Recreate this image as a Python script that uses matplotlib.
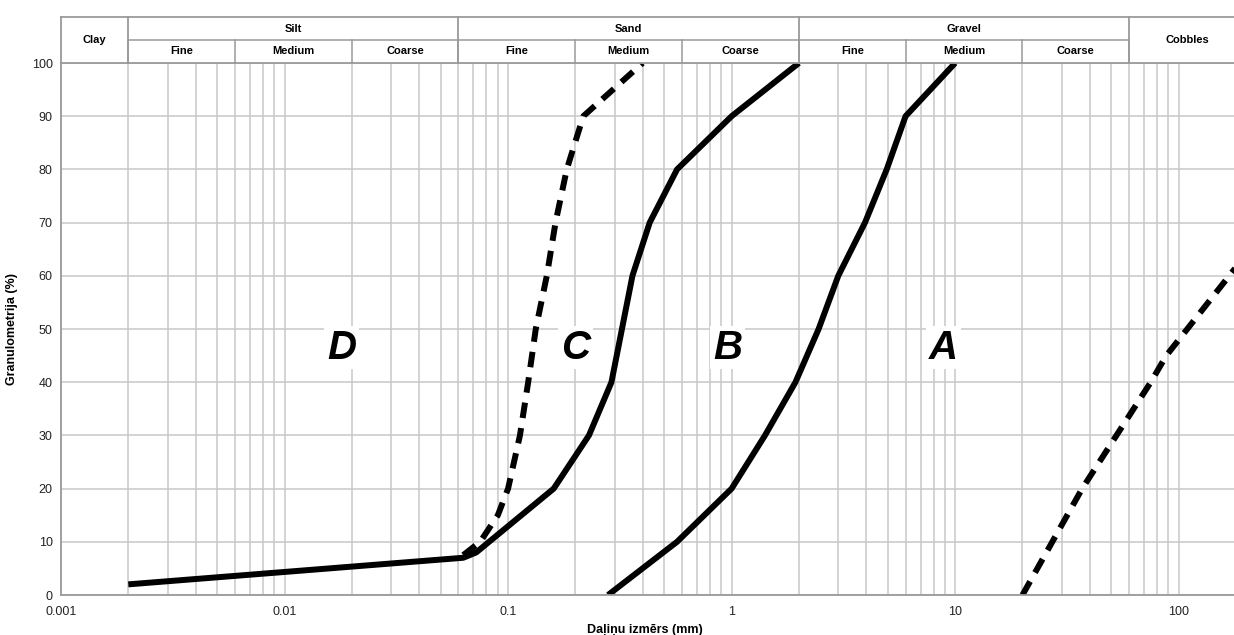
import numpy as np
import matplotlib.pyplot as plt
from matplotlib.ticker import FixedLocator, FixedFormatter, NullFormatter

plt.rcParams['font.family'] = ['Liberation Sans', 'DejaVu Sans']

# grading curves: particle size (mm) vs passing (%)
b_size = [0.002, 0.063, 0.072, 0.16, 0.23, 0.29, 0.36, 0.43, 0.57, 1.0, 2.0]
b_pass = [2, 7, 8, 20, 30, 40, 60, 70, 80, 90, 100]

c_size = [0.063, 0.075, 0.09, 0.1, 0.113, 0.123, 0.133, 0.149, 0.163, 0.183, 0.217, 0.4]
c_pass = [7.5, 10, 15, 20, 30, 40, 50, 60, 70, 80, 90, 100]

a_size = [0.28, 0.57, 1.0, 1.41, 1.93, 2.45, 3.0, 3.95, 4.94, 6.0, 10.0]
a_pass = [0, 10, 20, 30, 40, 50, 60, 70, 80, 90, 100]

k_size = [20, 37, 75, 88, 200]
k_pass = [0, 20, 40, 45, 64]

# zone labels
zone_text = ['D', 'C', 'B', 'A']
zone_x = [0.018, 0.2, 0.96, 8.9]
zone_y = [46.5, 46.5, 46.5, 46.5]

# soil class table above the plot
main_names = ['Clay', 'Silt', 'Sand', 'Gravel', 'Cobbles']
main_edges = [0.001, 0.002, 0.06, 2, 60, 200]
sub_names = ['Fine', 'Medium', 'Coarse']
sub_edges = [0.002, 0.006, 0.02, 0.06, 0.2, 0.6, 2, 6, 20, 60]

xmin, xmax = 0.001, 200
W, H = 1234, 635
fig = plt.figure(figsize=(W / 100, H / 100), dpi=100)

left, right, top, bottom, htop = 61, 1246, 63, 595, 17
ax = fig.add_axes([left / W, 1 - bottom / H, (right - left) / W, (bottom - top) / H])
hax = fig.add_axes([left / W, 1 - top / H, (right - left) / W, (top - htop) / H])

grid_c = '#c8c8c8'
edge_c = '#9a9a9a'

ax.set_xscale('log')
ax.set_xlim(xmin, xmax)
ax.set_ylim(0, 100)
ax.set_yticks(np.arange(0, 101, 10))
ax.xaxis.set_major_locator(FixedLocator([0.001, 0.01, 0.1, 1, 10, 100]))
ax.xaxis.set_major_formatter(FixedFormatter(['0.001', '0.01', '0.1', '1', '10', '100']))
ax.xaxis.set_minor_formatter(NullFormatter())
ax.grid(True, which='both', axis='x', color=grid_c, lw=1.1)
ax.grid(True, which='major', axis='y', color=grid_c, lw=1.1)
ax.set_axisbelow(True)
ax.tick_params(which='both', length=0, labelsize=9, colors='#222222')
ax.tick_params(axis='x', pad=8)
ax.tick_params(axis='y', pad=6)
for s in ['left', 'bottom']:
    ax.spines[s].set_color(edge_c)
    ax.spines[s].set_linewidth(1.3)
for s in ['right', 'top']:
    ax.spines[s].set_visible(False)

ax.set_xlabel('Daļiņu izmērs (mm)', fontsize=9, fontweight='bold')
ax.xaxis.set_label_coords((645 - left) / (right - left), -0.055)
ax.set_ylabel('Granulometrija (%)', fontsize=9, fontweight='bold')
ax.yaxis.set_label_coords(-0.036, 0.5)

lw = 4.3
ax.plot(b_size, b_pass, color='black', lw=lw, solid_capstyle='butt', solid_joinstyle='round')
ax.plot(a_size, a_pass, color='black', lw=lw, solid_capstyle='butt', solid_joinstyle='round')
ax.plot(c_size, c_pass, color='black', lw=lw, dashes=(2.6, 1.7), dash_capstyle='butt')
ax.plot(k_size, k_pass, color='black', lw=lw, dashes=(2.6, 1.7), dash_capstyle='butt')

for t, x, y in zip(zone_text, zone_x, zone_y):
    ax.text(x, y, t, fontsize=29, fontweight='bold', style='italic', ha='center', va='center',
            bbox=dict(facecolor='white', edgecolor='none', pad=2))

# header table
hax.set_xscale('log')
hax.set_xlim(xmin, xmax)
hax.set_ylim(0, 2)
hax.axis('off')
hax.plot([xmin, xmax], [2, 2], color=edge_c, lw=1.3, clip_on=False)
hax.plot([xmin, xmax], [0, 0], color=edge_c, lw=1.3, clip_on=False)
hax.plot([main_edges[1], main_edges[4]], [1, 1], color=edge_c, lw=1.1, clip_on=False)
for e in main_edges[:-1]:
    hax.plot([e, e], [0, 2], color=edge_c, lw=1.3, clip_on=False)
for e in sub_edges:
    hax.plot([e, e], [0, 1], color=edge_c, lw=1.1, clip_on=False)

# Clay and Cobbles span both rows, the others sit in the top row
for i, name in enumerate(main_names):
    xc = np.sqrt(main_edges[i] * main_edges[i + 1])
    yc = 1.5 if name in ('Silt', 'Sand', 'Gravel') else 1.0
    hax.text(xc, yc, name, fontsize=8, fontweight='bold', ha='center', va='center')

for j in range(len(sub_edges) - 1):
    xc = np.sqrt(sub_edges[j] * sub_edges[j + 1])
    hax.text(xc, 0.5, sub_names[j % 3], fontsize=8, fontweight='bold', ha='center', va='center')

fig.savefig('out.png', dpi=100)
